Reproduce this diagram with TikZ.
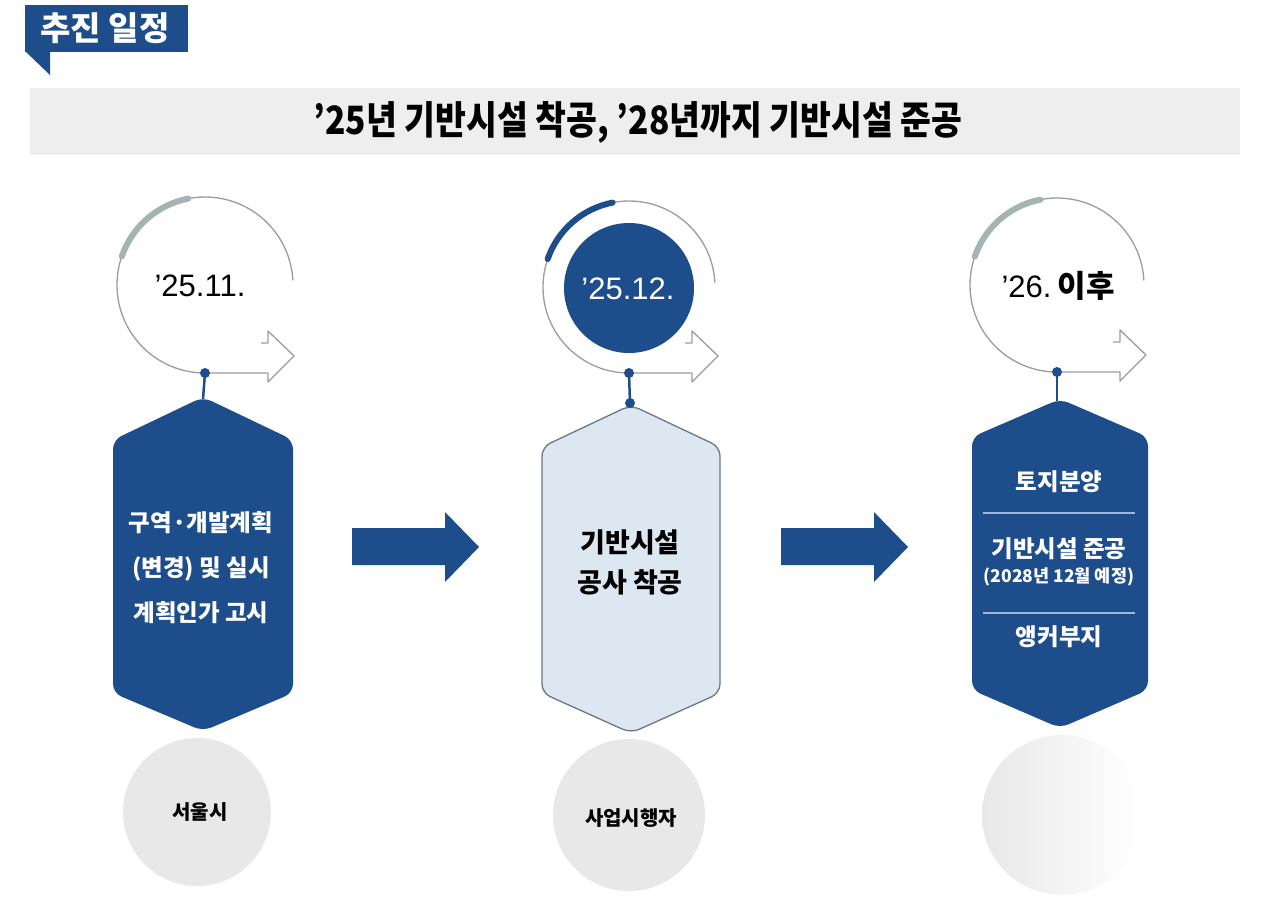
\documentclass[tikz,border=0pt]{standalone}
\usepackage{fontspec}
\setmainfont{Noto Sans CJK KR}
\newfontfamily\latinf{Liberation Sans}
\usetikzlibrary{calc}
\definecolor{navy}{HTML}{1E4D8C}
\definecolor{ringgray}{HTML}{9C9C9C}
\definecolor{thickgray}{HTML}{A3B5B3}
\definecolor{banner}{HTML}{EEEEEE}
\definecolor{hexlight}{HTML}{DDE7F1}
\definecolor{hexborder}{HTML}{6E7680}
\definecolor{bubble}{HTML}{E8E8E8}
\definecolor{sepline}{HTML}{9FB8D8}
\tikzset{
  ringline/.style={draw=ringgray, line width=1.3pt},
  thickarc/.style={line width=6pt, line cap=round},
  joint/.style={circle, fill=navy, inner sep=0pt, minimum size=10pt},
  stem/.style={draw=navy, line width=2.5pt},
  bigarrow/.style={fill=navy, draw=none},
  hexdark/.style={fill=navy, draw=none, rounded corners=9pt},
  hexlite/.style={fill=hexlight, draw=hexborder, line width=1.3pt, rounded corners=9pt},
  whitetxt/.style={text=white, font=\bfseries\fontsize{23.5}{45}\selectfont, align=center, inner sep=0pt},
  blacktxt/.style={text=black, font=\bfseries\fontsize{27}{40}\selectfont, align=center, inner sep=0pt},
  bubbletxt/.style={text=black, font=\bfseries\fontsize{20}{22}\selectfont, inner sep=0pt},
  datetxt/.style={font=\fontsize{31}{34}\selectfont, inner sep=0pt},
}
% ring with arrow: #1 name, #2 cx, #3 cy, #4 radius, #5 thick colour
\newcommand\stagering[5]{%
  \coordinate (#1c) at (#2,#3);
  \coordinate (#1b) at (#2,#3+#4);
  \draw[ringline] (#1b) arc[start angle=90, end angle=357, radius=#4];
  \draw[ringline, line join=round] (#1b) -- ++(63,0) -- ++(0,9) -- ++(26,-26) -- ++(-26,-25) -- ++(0,12) -- ++(-7,0);
  \draw[thickarc, draw=#5] ($(#1c)+(199:#4)$) arc[start angle=199, end angle=259, radius=#4];
}
\begin{document}
\begin{tikzpicture}[x=1pt, y=-1pt]
\useasboundingbox[fill=white] (0,0) rectangle (1280,898);

% title tag
\fill[navy] (25,5) rectangle (188,52);
\fill[navy] (25,51) -- (50,51) -- (50,75) -- cycle;
\node[text=white, font=\bfseries\fontsize{33}{35}\selectfont, inner sep=0pt] (title) at (105,28) {추진 일정};

% banner
\fill[banner] (30,88) rectangle (1240,155);
\node[font=\bfseries\fontsize{39}{40}\selectfont, inner sep=0pt] (headline) at (638,122)
  {\scalebox{0.86}[1]{’25년 기반시설 착공, ’28년까지 기반시설 준공}};

% rings
\stagering{r1}{205}{285}{88}{thickgray}
\stagering{r2}{629}{287}{86}{navy}
\stagering{r3}{1057}{285}{87}{thickgray}

\fill[navy] (629,288) circle[radius=65];
\node[datetxt, text=black] (d1) at (200,286) {\latinf ’25.11.};
\node[datetxt, text=white] (d2) at (628,289) {\latinf ’25.12.};
\node[datetxt, text=black] (d3) at (1058,286) {{\latinf ’26.}\hspace{6pt}\bfseries 이후};

% hexagons
\draw[hexdark] (203,397) -- (293,440) -- (293,693) -- (203,731) -- (113,693) -- (113,440) -- cycle;
\coordinate (h1t) at (203,399);
\draw[hexlite] (631,405) -- (720,447) -- (720,693) -- (631,733) -- (542,693) -- (542,447) -- cycle;
\coordinate (h2t) at (630,403);
\draw[hexdark] (1060,399) -- (1148,437) -- (1148,690) -- (1060,728) -- (972,690) -- (972,437) -- cycle;
\coordinate (h3t) at (1057,401);

% stems and joints
\draw[stem] (r1b) -- (h1t);
\draw[stem] (r2b) -- (h2t);
\draw[stem] (r3b) -- (h3t);
\node[joint] (j1) at (r1b) {};
\node[joint] (j2) at (r2b) {};
\node[joint] (j2b) at (h2t) {};
\node[joint] (j3) at (r3b) {};

% hexagon texts
\node[whitetxt] (t1) at (201,568) {구역·개발계획\\(변경) 및 실시\\계획인가 고시};
\node[blacktxt] (t2) at (630,562) {기반시설\\공사 착공};
\node[whitetxt] (t3a) at (1059,482) {토지분양};
\draw[sepline, line width=1.3pt] (983,513) -- (1135,513);
\node[whitetxt] (t3b) at (1059,549) {기반시설 준공};
\node[text=white, font=\bfseries\fontsize{17.5}{19}\selectfont, inner sep=0pt] (t3c) at (1059,577) {(2028년 12월 예정)};
\draw[sepline, line width=1.3pt] (983,613) -- (1135,613);
\node[whitetxt] (t3d) at (1059,637) {앵커부지};

% big arrows
\fill[bigarrow] (352,528) -- (445,528) -- (445,512) -- (479,547) -- (445,582) -- (445,565) -- (352,565) -- cycle;
\fill[bigarrow] (781,528) -- (874,528) -- (874,512) -- (908,547) -- (874,582) -- (874,565) -- (781,565) -- cycle;

% bottom bubbles
\fill[bubble] (197,812) circle[radius=74];
\fill[bubble] (629,815) circle[radius=76];
\shade[left color=bubble, right color=white] (1062,815) circle[radius=80];
\node[bubbletxt] (b1) at (200,812) {서울시};
\node[bubbletxt] (b2) at (631,818) {사업시행자};
\end{tikzpicture}
\end{document}
